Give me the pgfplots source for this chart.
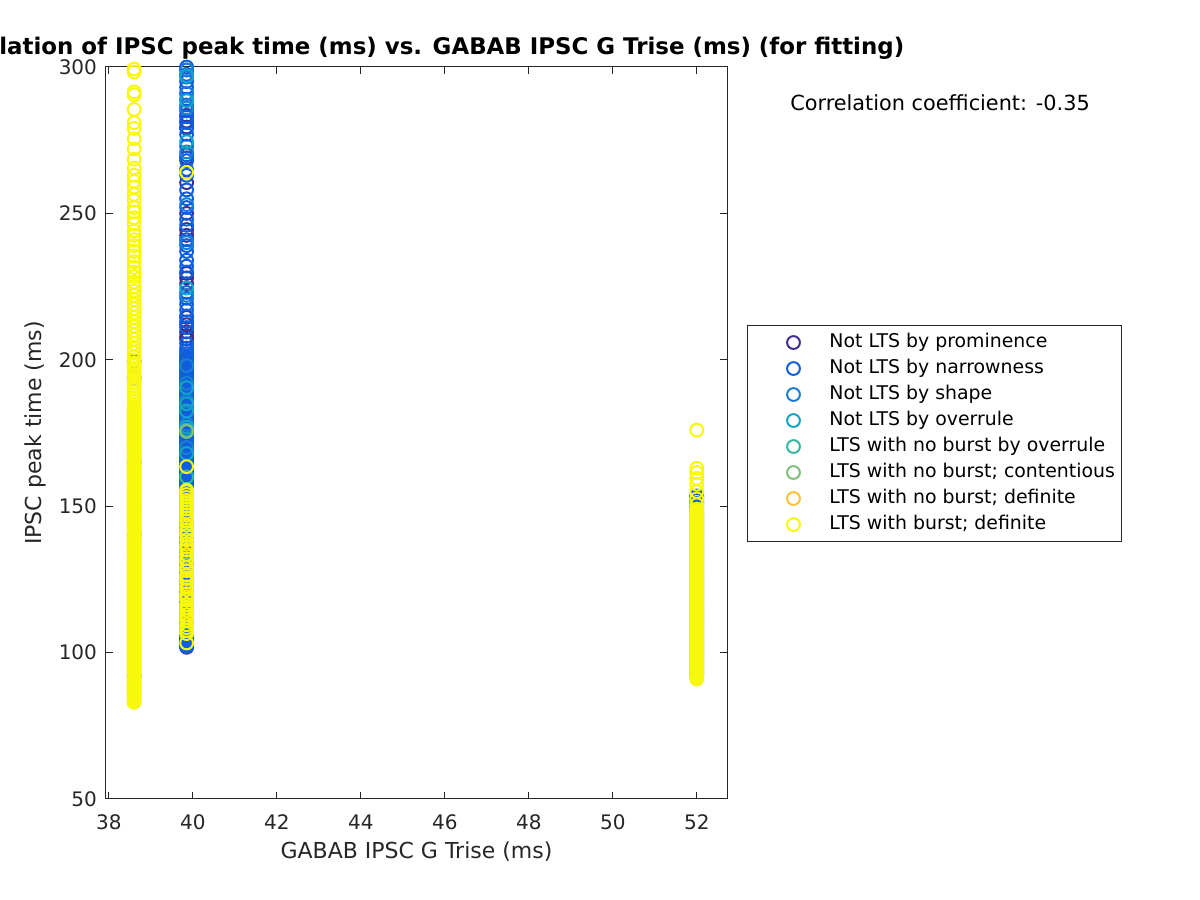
\documentclass[border=0pt]{standalone}
\usepackage{pgfplots}
\pgfplotsset{compat=1.18}
\usepackage{fontspec}
\setmainfont{DejaVu Sans}
\definecolor{cProm}{RGB}{59,47,143}
\definecolor{cNarr}{RGB}{15,94,224}
\definecolor{cShape}{RGB}{26,126,216}
\definecolor{cOver}{RGB}{18,164,200}
\definecolor{cNBO}{RGB}{48,184,160}
\definecolor{cCont}{RGB}{128,192,122}
\definecolor{cDef}{RGB}{255,192,52}
\definecolor{cBurst}{RGB}{248,248,10}
\definecolor{axgray}{RGB}{38,38,38}
\begin{document}
\begin{tikzpicture}[x=1pt,y=1pt]
\useasboundingbox (-53,-50.5) rectangle (547,399.5);
\begin{axis}[
  at={(0,0)}, anchor=south west, scale only axis,
  width=310.5pt, height=366pt,
  xmin=37.93, xmax=52.72, ymin=50, ymax=300,
  xtick={38,40,...,52}, ytick={50,100,...,300},
  tick align=inside, major tick length=3.5pt,
  axis line style={draw=axgray, line width=0.5pt},
  every tick/.style={axgray, line width=0.5pt},
  tick label style={font=\fontsize{10}{12}\selectfont, text=axgray},
  xticklabel style={yshift=-4.5pt},
  yticklabel style={xshift=-1pt},
  /pgf/number format/assume math mode=true,
  xlabel={GABAB IPSC G Trise (ms)},
  ylabel={IPSC peak time (ms)},
  label style={font=\fontsize{11}{13}\selectfont, text=axgray},
  xlabel style={at={(axis description cs:0.5,0)}, anchor=center, yshift=-26.5pt},
  ylabel style={at={(axis description cs:0,0.5)}, anchor=center, yshift=35.5pt},
  title={Correlation of IPSC peak time (ms) vs. GABAB IPSC G Trise (ms) (for fitting)},
  title style={at={(axis description cs:0.5,1)}, anchor=center, yshift=3.5pt, font=\bfseries\fontsize{11.45}{13}\selectfont},
  clip=false,
  only marks,
  every axis plot/.append style={mark=o, mark size=3.2pt, line width=1pt},
  legend cell align=left,
  legend image code/.code={\path[draw=none,fill=none] (0pt,-3pt) rectangle (38pt,3pt); \draw[#1] plot coordinates {(20pt,0pt)};},
  legend style={at={(axis description cs:1.0322,0.6475)}, anchor=north west,
    draw=axgray, line width=0.5pt, inner xsep=3pt, inner ysep=4pt,
    font=\fontsize{9.45}{11}\selectfont, row sep=4pt,
    nodes={inner sep=0pt, text height=7pt, text depth=2pt}},
]
% Not LTS by prominence
\addplot[cProm] coordinates {
(38.6,199.5)
(39.85,283.5)(39.85,281.5)(39.85,279.5)(39.85,269)(39.85,260.5)(39.85,250)(39.85,244.5)(39.85,242.5)
(39.85,229.5)(39.85,228)(39.85,226)(39.85,214.5)(39.85,212)(39.85,209.5)(39.85,208)(39.85,207)
(39.85,201)(39.85,197.5)(39.85,193)(39.85,189)(39.85,182)(39.85,160)(39.85,152)(39.85,104)(39.85,102.5)(39.85,101.8)
};
\addlegendentry{Not LTS by prominence}
% Not LTS by narrowness
\addplot[cNarr] coordinates {
(38.6,194)(38.6,165)(38.6,140)(38.6,92)
(39.85,300)(39.85,299)(39.85,297.5)(39.85,295)(39.85,293)(39.85,291)(39.85,289)(39.85,287)(39.85,285)
(39.85,283)(39.85,281)(39.85,279)(39.85,277)(39.85,273)(39.85,270)(39.85,268)(39.85,265)(39.85,263)
(39.85,258)(39.85,255)(39.85,252)(39.85,248)(39.85,246)(39.85,241)(39.85,239)(39.85,237)
(39.85,234)(39.85,232)(39.85,230)(39.85,223)(39.85,221)(39.85,219)(39.85,217)(39.85,215)(39.85,213)
(39.85,211)(39.85,205.5)
(39.85,102)(39.85,102.5)(39.85,103)(39.85,103.5)(39.85,104)(39.85,104.5)(39.85,105)(39.85,105.5)(39.85,106)(39.85,106.5)
(39.85,107)(39.85,107.5)(39.85,108)(39.85,108.5)(39.85,109)(39.85,109.5)(39.85,110)(39.85,110.5)(39.85,111)(39.85,111.5)
(39.85,112)(39.85,112.5)(39.85,113)(39.85,113.5)(39.85,114)(39.85,114.5)(39.85,115)(39.85,115.5)(39.85,116)(39.85,116.5)
(39.85,117)(39.85,117.5)(39.85,118)(39.85,118.5)(39.85,119)(39.85,119.5)(39.85,120)(39.85,120.5)(39.85,121)(39.85,121.5)
(39.85,122)(39.85,122.5)(39.85,123)(39.85,123.5)(39.85,124)(39.85,124.5)(39.85,125)(39.85,125.5)(39.85,126)(39.85,126.5)
(39.85,127)(39.85,127.5)(39.85,128)(39.85,128.5)(39.85,129)(39.85,129.5)(39.85,130)(39.85,130.5)(39.85,131)(39.85,131.5)
(39.85,132)(39.85,132.5)(39.85,133)(39.85,133.5)(39.85,134)(39.85,134.5)(39.85,135)(39.85,135.5)(39.85,136)(39.85,136.5)
(39.85,137)(39.85,137.5)(39.85,138)(39.85,138.5)(39.85,139)(39.85,139.5)(39.85,140)(39.85,140.5)(39.85,141)(39.85,141.5)
(39.85,142)(39.85,142.5)(39.85,143)(39.85,143.5)(39.85,144)(39.85,144.5)(39.85,145)(39.85,145.5)(39.85,146)(39.85,146.5)
(39.85,147)(39.85,147.5)(39.85,148)(39.85,148.5)(39.85,149)(39.85,149.5)(39.85,150)(39.85,150.5)(39.85,151)(39.85,151.5)
(39.85,152)(39.85,152.5)(39.85,153)(39.85,153.5)(39.85,154)(39.85,154.5)(39.85,155)(39.85,155.5)(39.85,156)(39.85,156.5)
(39.85,157)(39.85,157.5)(39.85,158)(39.85,158.5)(39.85,159)(39.85,159.5)(39.85,160)(39.85,160.5)(39.85,161)(39.85,161.5)
(39.85,162)(39.85,162.5)(39.85,163)(39.85,163.5)(39.85,164)(39.85,164.5)(39.85,165)(39.85,165.5)(39.85,166)(39.85,166.5)
(39.85,167)(39.85,167.5)(39.85,168)(39.85,168.5)(39.85,169)(39.85,169.5)(39.85,170)(39.85,170.5)(39.85,171)(39.85,171.5)
(39.85,172)(39.85,172.5)(39.85,173)(39.85,173.5)(39.85,174)(39.85,174.5)(39.85,175)(39.85,175.5)(39.85,176)(39.85,176.5)
(39.85,177)(39.85,177.5)(39.85,178)(39.85,178.5)(39.85,179)(39.85,179.5)(39.85,180)(39.85,180.5)(39.85,181)(39.85,181.5)
(39.85,182)(39.85,182.5)(39.85,183)(39.85,183.5)(39.85,184)(39.85,184.5)(39.85,185)(39.85,185.5)(39.85,186)(39.85,186.5)
(39.85,187)(39.85,187.5)(39.85,188)(39.85,188.5)(39.85,189)(39.85,189.5)(39.85,190)(39.85,190.5)(39.85,191)(39.85,191.5)
(39.85,192)(39.85,192.5)(39.85,193)(39.85,193.5)(39.85,194)(39.85,194.5)(39.85,195)(39.85,195.5)(39.85,196)(39.85,196.5)
(39.85,197)(39.85,197.5)(39.85,198)(39.85,198.5)(39.85,199)(39.85,199.5)(39.85,200)(39.85,200.5)(39.85,201)(39.85,202)
(39.85,203)(39.85,204)
(52,92)(52,93)(52,94)(52,95)(52,96)(52,97)(52,98)(52,99)(52,100)(52,101)(52,102)(52,103)(52,104)(52,105)
(52,106)(52,107)(52,108)(52,109)(52,110)(52,111)(52,112)(52,113)(52,114)(52,115)(52,116)(52,117)(52,118)
(52,119)(52,120)(52,121)(52,122)(52,123)(52,124)(52,125)(52,126)(52,127)(52,128)(52,129)(52,130)(52,131)
(52,132)(52,133)(52,134)(52,135)(52,136)(52,137)(52,138)(52,139)(52,140)(52,141)(52,142)(52,143)(52,144)
(52,145)(52,146)(52,147)(52,148)(52,149)(52,150)(52,151)(52,152)(52,153)(52,153.5)
};
\addlegendentry{Not LTS by narrowness}
% Not LTS by shape
\addplot[cShape] coordinates {
(39.85,299)(39.85,296.5)(39.85,291)(39.85,286)(39.85,271)(39.85,253)(39.85,240)(39.85,222)(39.85,198)
(39.85,192)(39.85,186)(39.85,178)(39.85,170)(39.85,140)(39.85,130)(39.85,120)(39.85,110)
(52,120)(52,135)(52,100)
};
\addlegendentry{Not LTS by shape}
% Not LTS by overrule
\addplot[cOver] coordinates {
(39.85,297)(39.85,288.5)(39.85,274.5)(39.85,224.5)(39.85,190.5)(39.85,185)(39.85,182.5)(39.85,177)
(39.85,168)(39.85,150)(39.85,140)
};
\addlegendentry{Not LTS by overrule}
% LTS with no burst by overrule
\addplot[cNBO] coordinates {
(39.85,176)(39.85,160)(39.85,145)
};
\addlegendentry{LTS with no burst by overrule}
% LTS with no burst; contentious
\addplot[cCont] coordinates {
(39.85,175.5)(39.85,130)
};
\addlegendentry{LTS with no burst; contentious}
% LTS with no burst; definite
\addplot[cDef] coordinates {
(39.85,114)(39.85,125)(52,147.5)(38.6,150)
};
\addlegendentry{LTS with no burst; definite}
% LTS with burst; definite
\addplot[cBurst] coordinates {
(38.6,299.3)(38.6,298.3)(38.6,291.5)(38.6,290.5)(38.6,285.5)(38.6,281)(38.6,279)(38.6,275.5)(38.6,272)
(38.6,268.5)(38.6,265.5)(38.6,263)(38.6,261)(38.6,259)(38.6,256.5)(38.6,254.5)(38.6,252)(38.6,250.5)
(38.6,248.5)(38.6,246.5)(38.6,244)(38.6,242.5)(38.6,241)(38.6,239)(38.6,237)(38.6,235.5)(38.6,233.5)
(38.6,231.5)(38.6,230)(38.6,228.5)(38.6,226.5)(38.6,225)(38.6,223.5)(38.6,222)(38.6,220.5)(38.6,219)
(38.6,217.5)(38.6,216)(38.6,214.5)(38.6,213)(38.6,211.5)(38.6,210)(38.6,208.5)(38.6,207)(38.6,205.5)
(38.6,204)(38.6,202.5)(38.6,201)(38.6,200)(38.6,199)(38.6,198)(38.6,197)(38.6,196)(38.6,195)(38.6,194)
(38.6,193)(38.6,192)(38.6,191)(38.6,190)(38.6,189)(38.6,188)(38.6,187)(38.6,186)(38.6,185)(38.6,184)(38.6,183.5)
(38.6,83)(38.6,83.5)(38.6,84)(38.6,84.5)(38.6,85)(38.6,85.5)(38.6,86)(38.6,86.5)(38.6,87)(38.6,87.5)
(38.6,88)(38.6,88.5)(38.6,89)(38.6,89.5)(38.6,90)(38.6,90.5)(38.6,91)(38.6,91.5)(38.6,92)(38.6,92.5)
(38.6,93)(38.6,93.5)(38.6,94)(38.6,94.5)(38.6,95)(38.6,95.5)(38.6,96)(38.6,96.5)(38.6,97)(38.6,97.5)
(38.6,98)(38.6,98.5)(38.6,99)(38.6,99.5)(38.6,100)(38.6,100.5)(38.6,101)(38.6,101.5)(38.6,102)(38.6,102.5)
(38.6,103)(38.6,103.5)(38.6,104)(38.6,104.5)(38.6,105)(38.6,105.5)(38.6,106)(38.6,106.5)(38.6,107)(38.6,107.5)
(38.6,108)(38.6,108.5)(38.6,109)(38.6,109.5)(38.6,110)(38.6,110.5)(38.6,111)(38.6,111.5)(38.6,112)(38.6,112.5)
(38.6,113)(38.6,113.5)(38.6,114)(38.6,114.5)(38.6,115)(38.6,115.5)(38.6,116)(38.6,116.5)(38.6,117)(38.6,117.5)
(38.6,118)(38.6,118.5)(38.6,119)(38.6,119.5)(38.6,120)(38.6,120.5)(38.6,121)(38.6,121.5)(38.6,122)(38.6,122.5)
(38.6,123)(38.6,123.5)(38.6,124)(38.6,124.5)(38.6,125)(38.6,125.5)(38.6,126)(38.6,126.5)(38.6,127)(38.6,127.5)
(38.6,128)(38.6,128.5)(38.6,129)(38.6,129.5)(38.6,130)(38.6,130.5)(38.6,131)(38.6,131.5)(38.6,132)(38.6,132.5)
(38.6,133)(38.6,133.5)(38.6,134)(38.6,134.5)(38.6,135)(38.6,135.5)(38.6,136)(38.6,136.5)(38.6,137)(38.6,137.5)
(38.6,138)(38.6,138.5)(38.6,139)(38.6,139.5)(38.6,140)(38.6,140.5)(38.6,141)(38.6,141.5)(38.6,142)(38.6,142.5)
(38.6,143)(38.6,143.5)(38.6,144)(38.6,144.5)(38.6,145)(38.6,145.5)(38.6,146)(38.6,146.5)(38.6,147)(38.6,147.5)
(38.6,148)(38.6,148.5)(38.6,149)(38.6,149.5)(38.6,150)(38.6,150.5)(38.6,151)(38.6,151.5)(38.6,152)(38.6,152.5)
(38.6,153)(38.6,153.5)(38.6,154)(38.6,154.5)(38.6,155)(38.6,155.5)(38.6,156)(38.6,156.5)(38.6,157)(38.6,157.5)
(38.6,158)(38.6,158.5)(38.6,159)(38.6,159.5)(38.6,160)(38.6,160.5)(38.6,161)(38.6,161.5)(38.6,162)(38.6,162.5)
(38.6,163)(38.6,163.5)(38.6,164)(38.6,164.5)(38.6,165)(38.6,165.5)(38.6,166)(38.6,166.5)(38.6,167)(38.6,167.5)
(38.6,168)(38.6,168.5)(38.6,169)(38.6,169.5)(38.6,170)(38.6,170.5)(38.6,171)(38.6,171.5)(38.6,172)(38.6,172.5)
(38.6,173)(38.6,173.5)(38.6,174)(38.6,174.5)(38.6,175)(38.6,175.5)(38.6,176)(38.6,176.5)(38.6,177)(38.6,177.5)
(38.6,178)(38.6,178.5)(38.6,179)(38.6,179.5)(38.6,180)(38.6,180.5)(38.6,181)(38.6,181.5)(38.6,182)(38.6,182.5)(38.6,183)
(39.85,264)(39.85,163.5)(39.85,103.3)
(39.85,106.5)(39.85,107.5)(39.85,108.5)(39.85,109.5)(39.85,111)(39.85,112)(39.85,113)(39.85,114.5)(39.85,115.5)
(39.85,116.5)(39.85,118)(39.85,119)(39.85,120)(39.85,121.5)(39.85,122.5)(39.85,124)(39.85,125.5)(39.85,126.5)
(39.85,128)(39.85,129)(39.85,131)(39.85,132)(39.85,133.5)(39.85,135)(39.85,136)(39.85,137)(39.85,138.5)
(39.85,140)(39.85,141)(39.85,142)(39.85,143.5)(39.85,145)(39.85,146)(39.85,147)(39.85,148)(39.85,149)
(39.85,150)(39.85,151)(39.85,152)(39.85,153)(39.85,154)(39.85,155)(39.85,155.5)
(52,176)(52,163)(52,161.5)(52,159.5)(52,157.5)(52,155)(52,152.5)(52,150.5)
(52,91)(52,91.5)(52,92)(52,92.5)(52,93)(52,93.5)(52,94)(52,94.5)(52,95)(52,95.5)
(52,96)(52,96.5)(52,97)(52,97.5)(52,98)(52,98.5)(52,99)(52,99.5)(52,100)(52,100.5)
(52,101)(52,101.5)(52,102)(52,102.5)(52,103)(52,103.5)(52,104)(52,104.5)(52,105)(52,105.5)
(52,106)(52,106.5)(52,107)(52,107.5)(52,108)(52,108.5)(52,109)(52,109.5)(52,110)(52,110.5)
(52,111)(52,111.5)(52,112)(52,112.5)(52,113)(52,113.5)(52,114)(52,114.5)(52,115)(52,115.5)
(52,116)(52,116.5)(52,117)(52,117.5)(52,118)(52,118.5)(52,119)(52,119.5)(52,120)(52,120.5)
(52,121)(52,121.5)(52,122)(52,122.5)(52,123)(52,123.5)(52,124)(52,124.5)(52,125)(52,125.5)
(52,126)(52,126.5)(52,127)(52,127.5)(52,128)(52,128.5)(52,129)(52,129.5)(52,130)(52,130.5)
(52,131)(52,131.5)(52,132)(52,132.5)(52,133)(52,133.5)(52,134)(52,134.5)(52,135)(52,135.5)
(52,136)(52,136.5)(52,137)(52,137.5)(52,138)(52,138.5)(52,139)(52,139.5)(52,140)(52,140.5)
(52,141)(52,141.5)(52,142)(52,142.5)(52,143)(52,143.5)(52,144)(52,144.5)(52,145)(52,145.5)
(52,146)(52,146.5)(52,147)(52,147.5)(52,148)(52,148.5)(52,149)
};
\addlegendentry{LTS with burst; definite}
\node[anchor=west, inner sep=0pt, font=\fontsize{10.4}{12}\selectfont, text=black] at (rel axis cs:1.1014,0.9508) {Correlation coefficient: -0.35};
\end{axis}
\end{tikzpicture}
\end{document}
